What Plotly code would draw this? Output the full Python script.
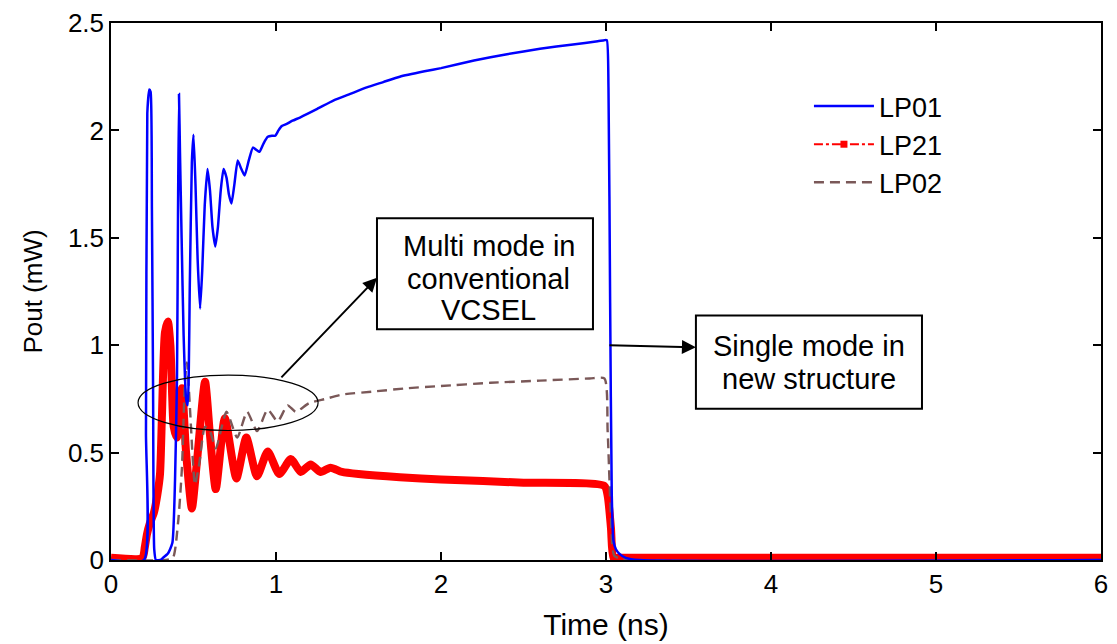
import plotly.graph_objects as go

# ---------------- data ----------------
t_lp01 = [0, 0.20, 0.212, 0.220, 0.232, 0.240, 0.248, 0.255, 0.262, 0.272, 0.30, 0.315, 0.345,
          0.372, 0.388, 0.400, 0.406, 0.412, 0.418, 0.428, 0.440, 0.455, 0.465, 0.478, 0.490,
          0.500, 0.512, 0.525, 0.540, 0.553, 0.568, 0.585, 0.600, 0.615, 0.632, 0.648, 0.665,
          0.682, 0.700, 0.715, 0.730, 0.748, 0.768, 0.790, 0.810, 0.835, 0.860, 0.880, 0.900,
          0.925, 0.950, 0.975, 0.995, 1.015, 1.035, 1.065, 1.10, 1.145, 1.25, 1.35, 1.45, 1.55,
          1.65, 1.75, 1.9, 2.0, 2.2, 2.4, 2.6, 2.8, 2.95, 2.99, 3.005, 3.015, 3.025, 3.035,
          3.045, 3.06, 3.08, 3.12, 3.2, 6.0]
p_lp01 = [0, 0, 0.6, 2.08, 2.19, 2.18, 1.63, 0.8, 0.05, 0.0, 0.0, 0.01, 0.03,
          0.08, 0.37, 0.85, 1.6, 2.17, 1.9, 1.5, 1.05, 0.75, 0.72, 1.3, 1.85,
          1.98, 1.75, 1.4, 1.17, 1.35, 1.65, 1.82, 1.72, 1.55, 1.46, 1.55, 1.72,
          1.82, 1.78, 1.70, 1.66, 1.75, 1.86, 1.82, 1.79, 1.86, 1.92, 1.91, 1.90,
          1.94, 1.97, 1.975, 1.975, 2.0, 2.02, 2.03, 2.045, 2.06, 2.10, 2.14, 2.17, 2.20,
          2.225, 2.25, 2.275, 2.29, 2.325, 2.355, 2.38, 2.40, 2.415, 2.42, 2.42, 2.2, 1.2, 0.3,
          0.09, 0.05, 0.03, 0.01, 0.0, 0.0]

t_lp21 = [0, 0.19, 0.205, 0.218, 0.235, 0.26, 0.28, 0.297, 0.309, 0.327, 0.345, 0.36, 0.37,
          0.38, 0.40, 0.43, 0.455, 0.49, 0.52, 0.57, 0.60, 0.635, 0.69, 0.76, 0.82, 0.885,
          0.95, 1.02, 1.09, 1.15, 1.21, 1.27, 1.33, 1.40, 1.5, 1.75, 2.0, 2.5, 2.99, 3.01,
          3.03, 3.045, 3.07, 6.0]
p_lp21 = [0.01, 0.01, 0.06, 0.12, 0.17, 0.22, 0.30, 0.40, 0.68, 1.06, 1.11, 1.0, 0.78,
          0.62, 0.57, 0.80, 0.50, 0.24, 0.45, 0.83, 0.58, 0.33, 0.66, 0.38, 0.57, 0.39,
          0.505, 0.40, 0.47, 0.41, 0.445, 0.41, 0.43, 0.41, 0.40, 0.385, 0.375, 0.36, 0.345, 0.30,
          0.15, 0.01, 0.01, 0.01]

t_lp02 = [0, 0.33, 0.375, 0.406, 0.43, 0.448, 0.46, 0.479, 0.497, 0.509, 0.535, 0.57, 0.60,
          0.635, 0.70, 0.765, 0.825, 0.885, 0.95, 1.01, 1.07, 1.12, 1.2, 1.3, 1.4, 1.6, 1.8,
          2.0, 2.3, 2.6, 2.9, 2.99, 3.01, 3.03, 3.05, 3.1, 6.0]
p_lp02 = [0, 0, 0.01, 0.17, 0.43, 0.83, 0.92, 0.70, 0.45, 0.35, 0.45, 0.62, 0.60,
          0.52, 0.69, 0.57, 0.69, 0.60, 0.70, 0.645, 0.72, 0.69, 0.73, 0.75, 0.77, 0.785, 0.80,
          0.81, 0.825, 0.835, 0.845, 0.845, 0.6, 0.2, 0.02, 0.005, 0.0]

x_ticks = [0, 1, 2, 3, 4, 5, 6]
x_tick_labels = ["0", "1", "2", "3", "4", "5", "6"]
y_ticks = [0, 0.5, 1, 1.5, 2, 2.5]
y_tick_labels = ["0", "0.5", "1", "1.5", "2", "2.5"]

series_names = ["LP01", "LP21", "LP02"]
box1_lines = ["Multi mode in", "conventional", "VCSEL"]
box2_lines = ["Single mode in", "new structure"]

# ---------------- styles ----------------
FONT = "Liberation Sans, Arial, sans-serif"
BLUE = "#0000ff"
RED = "#ff0000"
BROWN = "#7a5858"

fig = go.Figure()

# LP21 (thick red band, drawn first)
fig.add_trace(go.Scatter(x=t_lp21, y=p_lp21, mode="lines", name=series_names[1],
                         line=dict(color=RED, width=8, shape="spline", smoothing=0.6),
                         showlegend=False))
# LP02 dashed brown
fig.add_trace(go.Scatter(x=t_lp02, y=p_lp02, mode="lines", name=series_names[2],
                         line=dict(color=BROWN, width=2.4, dash="10px,6px",
                                   shape="spline", smoothing=0.6),
                         legendgroup="c", legendrank=3))
# LP01 blue
fig.add_trace(go.Scatter(x=t_lp01, y=p_lp01, mode="lines", name=series_names[0],
                         line=dict(color=BLUE, width=2.5, shape="spline", smoothing=0.5),
                         legendgroup="a", legendrank=1))
# legend proxy for LP21
fig.add_trace(go.Scatter(x=[None], y=[None], mode="lines+markers", name=series_names[1],
                         line=dict(color=RED, width=2, dash="dashdot"),
                         marker=dict(symbol="square", size=7, color=RED),
                         legendgroup="b", legendrank=2))

axis_common = dict(
    showline=True, linecolor="black", linewidth=1.5, mirror="ticks",
    ticks="inside", ticklen=8, tickwidth=1.5, tickcolor="black",
    showgrid=False, zeroline=False, automargin=False, ticklabeloverflow="allow",
    tickfont=dict(family=FONT, size=26, color="black"),
)

fig.update_xaxes(range=[0, 6], tickvals=x_ticks, ticktext=x_tick_labels,
                 title=dict(text="Time (ns)", font=dict(family=FONT, size=30, color="black"),
                            standoff=16),
                 **axis_common)
fig.update_yaxes(range=[0, 2.5], tickvals=y_ticks, ticktext=y_tick_labels,
                 title=dict(text="Pout (mW)", font=dict(family=FONT, size=26, color="black"),
                            standoff=18),
                 **axis_common)

# ellipse around the multimode oscillations
fig.add_shape(type="circle", xref="x", yref="y", x0=0.164, x1=1.255, y0=0.603, y1=0.861,
              line=dict(color="black", width=1.2), layer="above")
# text boxes
fig.add_shape(type="rect", xref="x", yref="y", x0=1.612, x1=2.921, y0=1.074, y1=1.591,
              line=dict(color="black", width=2), fillcolor="white", layer="above")
fig.add_shape(type="rect", xref="x", yref="y", x0=3.545, x1=4.915, y0=0.704, y1=1.138,
              line=dict(color="black", width=2), fillcolor="white", layer="above")

box1_y = [1.462, 1.309, 1.162]
for txt, yy in zip(box1_lines, box1_y):
    fig.add_annotation(x=2.29, y=yy, xref="x", yref="y", text=txt, showarrow=False,
                       font=dict(family=FONT, size=29, color="black"))
box2_y = [0.998, 0.843]
for txt, yy in zip(box2_lines, box2_y):
    fig.add_annotation(x=4.23, y=yy, xref="x", yref="y", text=txt, showarrow=False,
                       font=dict(family=FONT, size=29, color="black"))

# arrows
fig.add_annotation(x=1.612, y=1.314, xref="x", yref="y", ax=1.024, ay=0.843,
                   axref="x", ayref="y", text="", showarrow=True, arrowhead=2,
                   arrowsize=1.4, arrowwidth=2, arrowcolor="black")
fig.add_annotation(x=3.545, y=0.99, xref="x", yref="y", ax=3.012, ay=1.0,
                   axref="x", ayref="y", text="", showarrow=True, arrowhead=2,
                   arrowsize=1.4, arrowwidth=2, arrowcolor="black")

# the page body adds an 8 px offset, so the figure is 8 px smaller and margins compensate
fig.update_layout(
    width=1109, height=636,
    margin=dict(l=103, r=16, t=15, b=84, autoexpand=False),
    paper_bgcolor="white", plot_bgcolor="white",
    font=dict(family=FONT, color="black"),
    legend=dict(x=0.705, y=0.89, xanchor="left", yanchor="top",
                bgcolor="rgba(0,0,0,0)", borderwidth=0,
                font=dict(family=FONT, size=27, color="black"),
                tracegroupgap=0, itemwidth=60),
    showlegend=True,
)

fig.write_html("out.html")
